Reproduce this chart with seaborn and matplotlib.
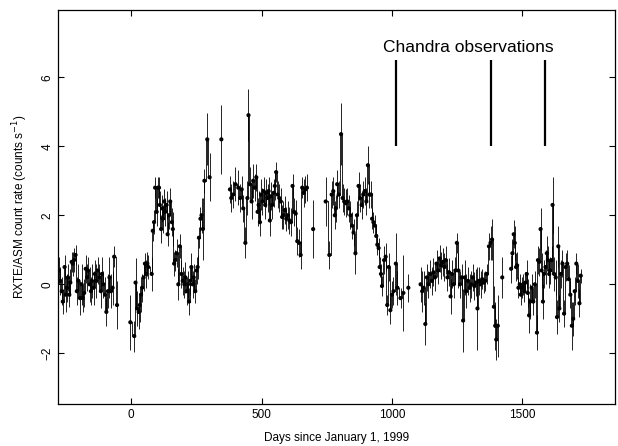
"""
RXTE/ASM light curve with Chandra observation markers
"""

import numpy as np
import pandas as pd
import matplotlib
matplotlib.use("Agg")
import matplotlib.pyplot as plt
import seaborn as sns

sns.set_style("ticks", {"axes.edgecolor": "black", "text.color": "black",
                        "xtick.color": "black", "ytick.color": "black",
                        "axes.labelcolor": "black"})
plt.rcParams["font.family"] = ["Liberation Sans", "DejaVu Sans"]

# --- data (days since 1999-01-01, counts/s, 1-sigma) ---
days_a = [-277, -271, -266, -262, -255, -251, -246, -242, -237, -233,
          -228, -224, -219, -213, -208, -202, -196, -190, -186, -180,
          -174, -169, -165, -159, -154, -150, -144, -139, -133, -128,
          -122, -116, -112, -106, -100, -95, -89, -83, -77, -71, -65, -54]
rate_a = [0.4, 0.1, -0.2, -0.5, 0.5, -0.3, -0.1, 0.2, -0.3, 0.05,
          0.65, 0.6, 0.7, 0.85, -0.2, 0.1, -0.4, 0.0, -0.4, -0.25,
          0.45, 0.2, 0.4, 0.0, -0.2, 0.1, -0.1, 0.3, 0.1, 0.4,
          0.2, -0.2, 0.3, 0.0, -0.3, -0.8, -0.2, 0.2, -0.2, -0.1, 0.8, -0.6]
err_a = [0.4, 0.4, 0.4, 0.35, 0.35, 0.5, 0.4, 0.4, 0.35, 0.4,
         0.3, 0.35, 0.35, 0.3, 0.4, 0.5, 0.5, 0.6, 0.4, 0.4,
         0.4, 0.4, 0.4, 0.5, 0.4, 0.5, 0.5, 0.4, 0.5, 0.4,
         0.4, 0.5, 0.5, 0.4, 0.5, 0.4, 0.5, 0.6, 0.5, 0.5, 0.3, 0.7]

days_b = [-3, 12, 17, 23, 29, 33, 38, 42, 48, 53,
          57, 62, 66, 79, 83, 88, 92, 98, 103, 107,
          110, 115, 119, 122, 127, 131, 136, 140, 145, 150,
          156, 160, 165, 169, 175, 181, 187, 193, 198, 204,
          208, 213, 218, 222, 227, 231, 236, 240, 246, 251,
          255, 260, 266, 270, 275, 281, 292, 301]
rate_b = [-1.1, -1.5, 0.05, -0.7, -0.8, -0.6, -0.3, -0.1, 0.2, 0.6,
          0.3, 0.6, 0.5, 0.3, 1.55, 1.8, 2.8, 2.1, 2.8, 2.8,
          2.3, 1.6, 2.2, 1.9, 2.4, 2.1, 2.3, 1.45, 2.0, 2.4,
          1.8, 1.6, 0.6, 0.7, 0.9, 0.0, 1.1, 0.3, 0.1, 0.0,
          0.2, -0.2, 0.0, -0.5, 0.1, 0.5, 0.0, 0.2, -0.2, 0.4,
          0.5, 1.35, 1.9, 2.0, 1.6, 3.0, 4.2, 3.1]
err_b = [0.8, 0.45, 0.7, 0.5, 0.5, 0.5, 0.5, 0.4, 0.4, 0.3,
         0.4, 0.35, 0.35, 0.5, 0.3, 0.35, 0.3, 0.4, 0.3, 0.3,
         0.4, 0.4, 0.4, 0.4, 0.35, 0.4, 0.4, 0.35, 0.4, 0.4,
         0.4, 0.5, 0.35, 0.3, 0.4, 0.45, 0.35, 0.4, 0.4, 0.4,
         0.45, 0.4, 0.4, 0.4, 0.4, 0.4, 0.4, 0.4, 0.35, 0.4,
         0.35, 0.3, 0.35, 0.5, 0.9, 0.35, 0.75, 0.7]

days_c = [346, 379, 384, 391, 400, 411, 418, 424, 430, 438,
          446, 450, 456, 462, 468, 474, 480, 485, 489, 494,
          498, 503, 508, 514, 518, 523, 527, 532, 536, 541,
          547, 551, 556, 562, 568, 574, 579, 584, 589, 595,
          601, 607, 613, 619, 625, 631, 637, 644, 650, 656,
          662, 668, 674, 698]
rate_c = [4.2, 2.75, 2.5, 2.6, 2.9, 2.8, 2.5, 2.75, 2.2, 1.2,
          2.5, 4.9, 2.9, 2.4, 3.0, 2.8, 3.1, 2.1, 2.3, 1.8,
          2.6, 2.4, 2.7, 2.3, 2.65, 2.5, 2.7, 1.85, 2.55, 2.3,
          2.65, 2.85, 3.25, 2.6, 2.5, 2.4, 1.95, 2.0, 2.15, 1.9,
          2.0, 1.85, 1.8, 2.85, 2.1, 2.05, 1.25, 1.2, 0.85, 2.8,
          2.65, 2.75, 2.8, 1.6]
err_c = [1.0, 0.4, 0.4, 0.4, 0.5, 0.5, 0.4, 0.4, 0.4, 0.45,
         0.5, 0.75, 0.5, 0.5, 0.5, 0.4, 0.4, 0.4, 0.4, 0.4,
         0.45, 0.4, 0.4, 0.4, 0.4, 0.4, 0.4, 0.45, 0.4, 0.4,
         0.4, 0.4, 0.3, 0.4, 0.4, 0.4, 0.35, 0.4, 0.4, 0.35,
         0.4, 0.4, 0.4, 0.35, 0.4, 0.4, 0.4, 0.4, 0.4, 0.3,
         0.4, 0.4, 0.4, 0.85]

days_d = [746, 760, 769, 775, 781, 785, 790, 796, 805, 811,
          817, 823, 829, 835, 841, 847, 853, 860, 866, 872,
          878, 884, 890, 896, 902, 908, 914, 920, 924, 929,
          935, 940, 944, 949, 953, 958, 962, 970, 976, 982,
          988, 994, 1000, 1006, 1015, 1021, 1033, 1044, 1063]
rate_d = [2.4, 0.85, 2.6, 2.7, 2.0, 2.2, 2.9, 2.6, 4.35, 2.5,
          2.4, 2.35, 2.4, 2.2, 2.0, 1.7, 1.5, 0.9, 2.0, 2.85,
          2.5, 2.3, 2.6, 2.7, 2.4, 3.45, 2.6, 2.6, 1.9, 1.8,
          1.7, 1.4, 1.15, 1.05, 0.5, 0.3, -0.05, 0.7, 0.8, -0.6,
          0.5, -0.75, -0.3, -0.2, 0.6, -0.1, -0.4, -0.25, -0.1]
err_d = [0.7, 0.4, 0.4, 0.4, 0.4, 0.4, 0.4, 0.4, 0.9, 0.4,
         0.4, 0.4, 0.4, 0.4, 0.4, 0.4, 0.4, 0.6, 0.4, 0.4,
         0.4, 0.4, 0.4, 0.4, 0.4, 0.55, 0.4, 0.4, 0.3, 0.3,
         0.3, 0.3, 0.3, 0.3, 0.3, 0.3, 0.3, 0.4, 0.4, 0.3,
         0.4, 0.4, 0.4, 0.4, 0.9, 0.5, 0.3, 1.1, 0.4]

days_e = [1110, 1116, 1122, 1128, 1134, 1140, 1147, 1153, 1159, 1165,
          1171, 1177, 1183, 1189, 1195, 1201, 1207, 1213, 1219, 1225,
          1231, 1237, 1243, 1249, 1255, 1261, 1267, 1273, 1279, 1285,
          1292, 1298, 1304, 1310, 1316, 1322, 1328, 1334, 1340, 1346,
          1352, 1358, 1364, 1372, 1378, 1384, 1391, 1396, 1400, 1406]
rate_e = [0.0, -0.2, -0.1, -1.15, 0.2, 0.0, 0.3, 0.1, 0.35, 0.2,
          0.6, 0.4, 0.75, 0.55, 0.65, 0.5, 0.7, 0.2, 0.35, -0.35,
          0.3, 0.0, 0.4, 1.2, 0.4, 0.0, 0.2, -1.05, 0.2, -0.2,
          0.1, -0.1, 0.0, 0.2, -0.05, 0.05, -0.7, 0.1, 0.0, 0.15,
          0.05, 0.1, 0.3, 1.1, 1.2, 1.3, -0.65, -1.2, -1.6, -1.2]
err_e = [0.5, 0.6, 0.5, 0.6, 0.4, 0.4, 0.4, 0.4, 0.4, 0.4,
         0.4, 0.4, 0.4, 0.4, 0.4, 0.4, 0.4, 0.4, 0.4, 0.5,
         0.4, 0.4, 0.4, 0.3, 0.5, 0.4, 0.4, 0.9, 0.5, 0.5,
         0.4, 0.4, 0.4, 0.4, 0.4, 0.4, 1.2, 0.4, 0.4, 0.3,
         0.3, 0.3, 0.3, 0.4, 0.5, 0.6, 0.6, 0.7, 0.6, 0.9]

days_f = [1423, 1457, 1462, 1467, 1471, 1476, 1480, 1485, 1490, 1494,
          1499, 1503, 1508, 1512, 1517, 1521, 1526, 1530, 1536, 1542,
          1548, 1556, 1560, 1565, 1570, 1574, 1579, 1583, 1589, 1594,
          1598, 1603, 1607, 1612, 1616, 1622, 1628, 1633, 1638, 1642,
          1648, 1654, 1660, 1666, 1672, 1678, 1684, 1690, 1695, 1701,
          1707, 1713, 1719, 1724]
rate_f = [0.2, 0.45, 0.9, 1.45, 1.2, 0.5, 0.55, -0.1, 0.0, -0.3,
          -0.1, 0.0, -0.2, 0.05, 0.3, -0.25, -0.9, -0.5, -0.1, -0.5,
          0.0, -1.4, 0.7, 0.65, 1.6, 0.4, -0.5, 0.3, 0.5, 0.9,
          0.7, 0.3, 0.4, 0.7, 2.3, 0.3, 0.2, -0.95, 1.1, -0.7,
          0.3, 0.6, -0.85, 0.5, 0.6, 0.15, -0.3, -1.2, -1.0, -0.2,
          0.6, 0.1, -0.55, 0.25]
err_f = [0.6, 0.4, 0.4, 0.4, 0.5, 0.4, 0.4, 0.3, 0.3, 0.3,
         0.3, 0.3, 0.3, 0.3, 0.4, 0.4, 0.5, 0.5, 0.4, 0.4,
         0.4, 0.5, 0.4, 0.4, 0.6, 0.5, 0.5, 0.4, 0.5, 0.5,
         0.4, 0.4, 0.4, 0.4, 0.8, 0.5, 0.5, 0.5, 0.6, 0.4,
         0.4, 0.4, 0.4, 0.4, 0.4, 0.4, 0.4, 0.7, 0.5, 0.4,
         0.3, 0.5, 0.4, 0.2]

CHANDRA_DAYS = [1015, 1379, 1586]

XTICKS = [0, 500, 1000, 1500]
YTICKS = [-2, 0, 2, 4, 6]


def build_frame():
    days = days_a + days_b + days_c + days_d + days_e + days_f
    rate = rate_a + rate_b + rate_c + rate_d + rate_e + rate_f
    err = err_a + err_b + err_c + err_d + err_e + err_f
    assert len(days) == len(rate) == len(err), (len(days), len(rate), len(err))
    df = pd.DataFrame({"day": days, "rate": rate, "err": err})
    # break the step line wherever there is a gap in coverage
    df["seg"] = np.concatenate([[0], np.cumsum(np.diff(df["day"]) > 16)])
    return df


df = build_frame()

fig = plt.figure(figsize=(6.18, 4.46), dpi=100)
ax = fig.add_axes([0.094, 0.094, 0.901, 0.883])

sns.lineplot(data=df, x="day", y="rate", units="seg", estimator=None,
             drawstyle="steps-mid", color="black", lw=0.6, ax=ax)
ax.errorbar(df["day"], df["rate"], yerr=df["err"], fmt="none",
            ecolor="black", elinewidth=0.6, capsize=0)
sns.scatterplot(data=df, x="day", y="rate", color="black", s=9,
                edgecolor="none", ax=ax)

# Chandra observation markers
ax.vlines(CHANDRA_DAYS, 4.0, 6.5, color="black", lw=1.6)
ax.text(1293, 6.85, "Chandra observations", ha="center", va="center",
        fontsize=12.5, color="black")

ax.set_xlim(-280, 1855)
ax.set_ylim(-3.47, 7.94)
ax.set_xticks(XTICKS)
ax.set_yticks(YTICKS)
ax.tick_params(direction="in", top=True, right=True, length=4, width=0.8,
               labelsize=8.5, colors="black")
for lab in ax.get_yticklabels():
    lab.set_rotation(90)
    lab.set_va("center")
for sp in ax.spines.values():
    sp.set_linewidth(0.9)
    sp.set_color("black")

ax.set_xlabel("Days since January 1, 1999", fontsize=8.5, labelpad=8)
ax.set_ylabel("RXTE/ASM count rate (counts s$^{-1}$)", fontsize=8.5, labelpad=8)

plt.savefig("out.png", dpi=100)
plt.close()
